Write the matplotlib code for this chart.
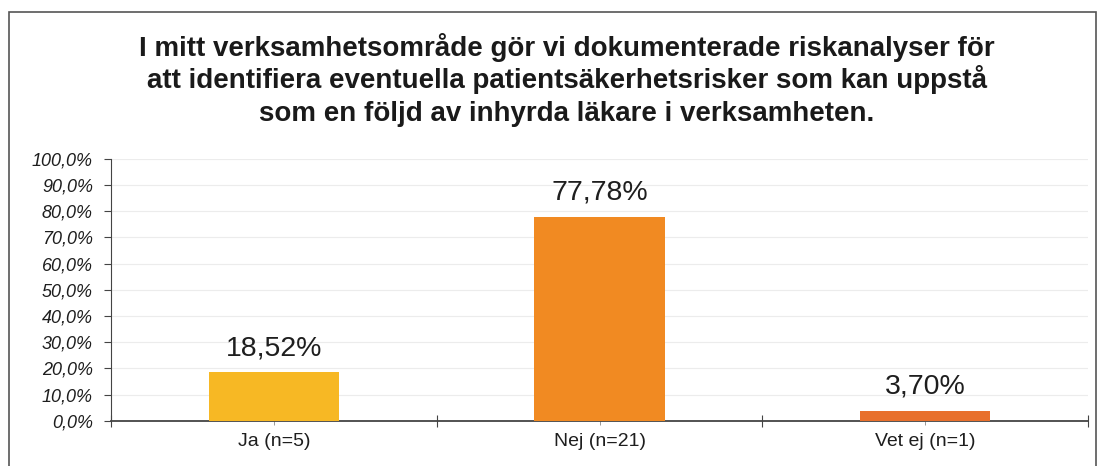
import matplotlib.pyplot as plt
import numpy as np
from matplotlib.patches import Rectangle

plt.rcParams['font.family'] = ['Liberation Sans', 'DejaVu Sans']

kategorier = ["Ja (n=5)", "Nej (n=21)", "Vet ej (n=1)"]
andel = [18.52, 77.78, 3.70]
farger = ["#F7B824", "#F18A22", "#E8702C"]
yticks = np.arange(0, 101, 10)
rubrik = ["I mitt verksamhetsområde gör vi dokumenterade riskanalyser för",
          "att identifiera eventuella patientsäkerhetsrisker som kan uppstå",
          "som en följd av inhyrda läkare i verksamheten."]

fig = plt.figure(figsize=(10.99, 4.66), dpi=100)
ax = fig.add_axes([0.101, 0.097, 0.889, 0.562])

x = np.arange(len(kategorier))
bars = ax.bar(x, andel, width=0.4, color=farger, zorder=3)
for b, v in zip(bars, andel):
    ax.annotate(f"{v:.2f}%".replace(".", ","), (b.get_x() + b.get_width() / 2, v),
                xytext=(0, 8), textcoords="offset points",
                ha="center", va="bottom", fontsize=20.5, color="#1e1e1e")

ax.set_xlim(-0.5, len(kategorier) - 0.5)
ax.set_ylim(0, 100)
ax.set_yticks(yticks)
ax.set_yticklabels([f"{t:.1f}%".replace(".", ",") for t in yticks],
                   fontsize=13, style="italic", color="#1e1e1e")
ax.yaxis.grid(True, color="#ececec", lw=0.8, zorder=0)

# kategorigränser som huvudmarkeringar, etiketter i mitten
ax.set_xticks(np.arange(-0.5, len(kategorier), 1.0))
ax.set_xticklabels([])
ax.set_xticks(x, minor=True)
ax.set_xticklabels(kategorier, minor=True, fontsize=14, color="#1e1e1e")
ax.tick_params(axis="x", which="major", direction="inout", length=8, color="#444444")
ax.tick_params(axis="x", which="minor", direction="out", length=3, color="#888888", pad=6)
ax.tick_params(axis="y", direction="out", length=5, color="#444444", pad=8)

for s in ["top", "right"]:
    ax.spines[s].set_visible(False)
ax.spines["left"].set_color("#444444")
ax.spines["bottom"].set_color("#444444")
ax.spines["bottom"].set_linewidth(1.3)

# rubriken rad för rad, baslinjer i pixlar från toppen
for i, rad in enumerate(rubrik):
    fig.text(0.516, 1 - (56 + 32.5 * i) / 466, rad, ha="center", va="baseline",
             fontsize=20, fontweight="bold", color="#1a1a1a")

fig.patches.append(Rectangle((0.008, -0.01), 0.989, 0.984, transform=fig.transFigure,
                             fill=False, edgecolor="#555555", lw=1.2))

fig.savefig("out.png", dpi=100)
